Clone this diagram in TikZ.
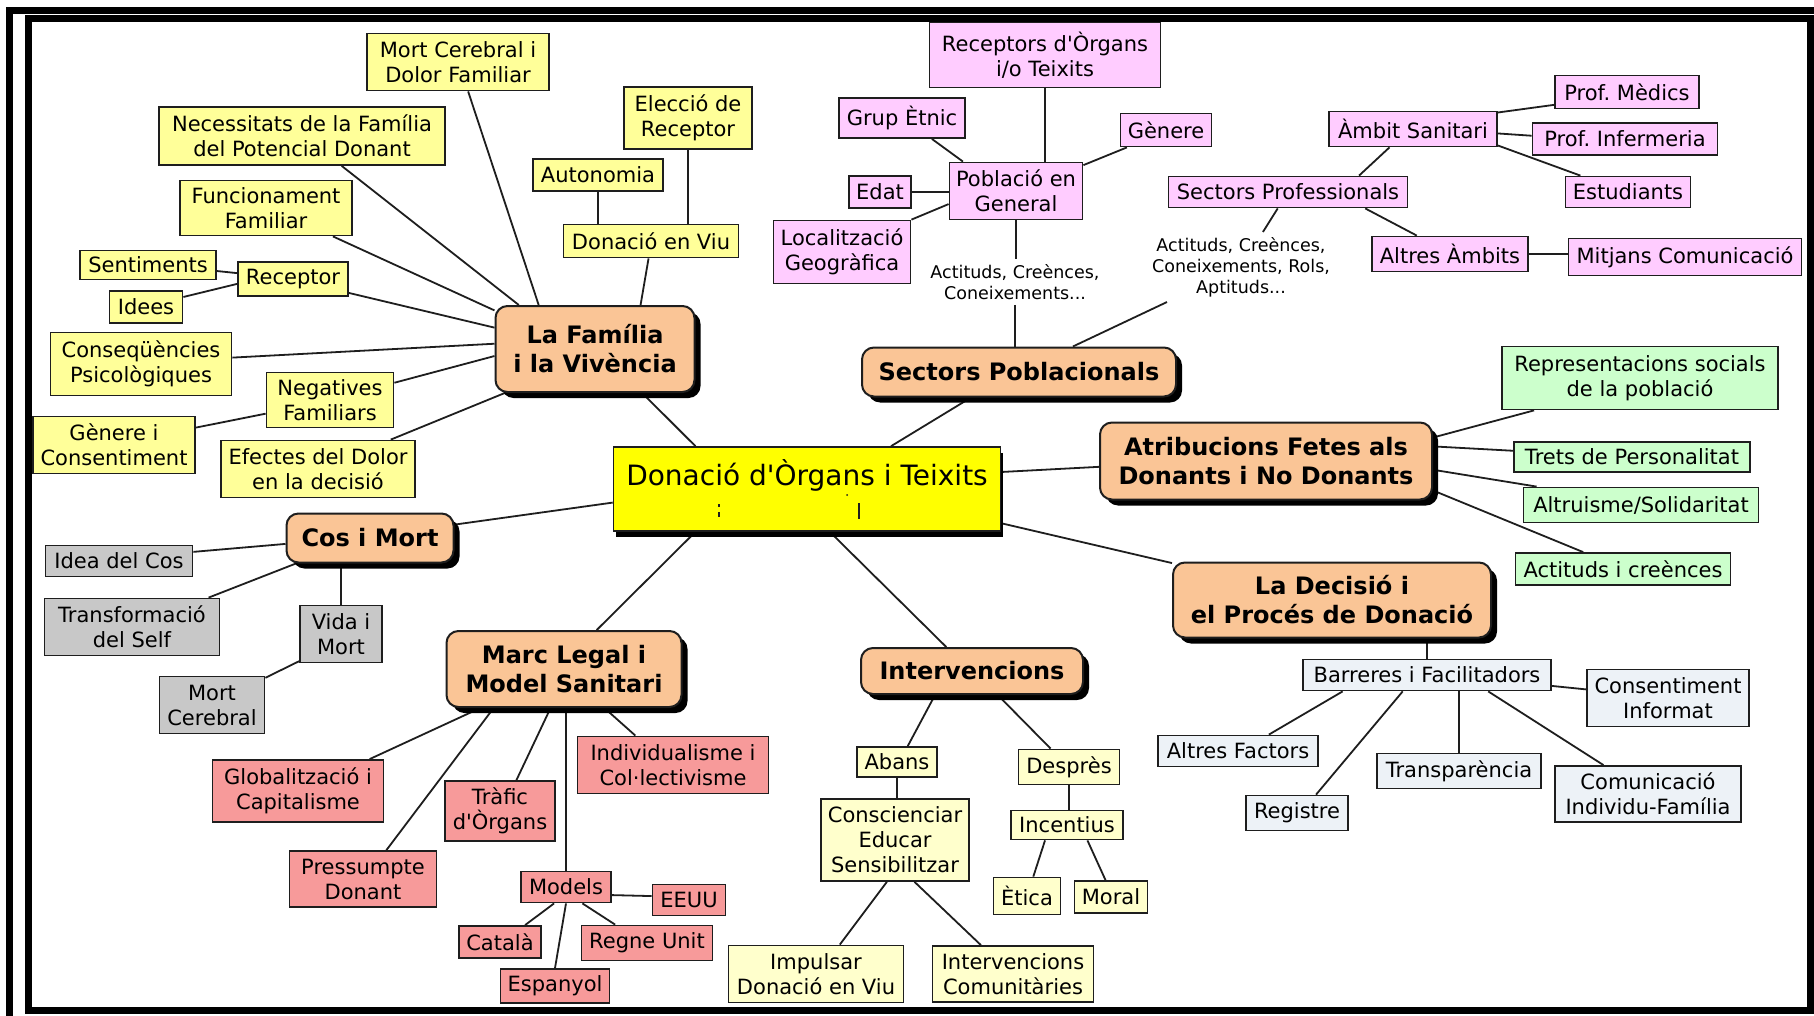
\documentclass[tikz,border=0pt]{standalone}
\usepackage{fontspec}
\setmainfont{DejaVu Sans}[Ligatures=TeXOff]
\usetikzlibrary{shadows}
\pgfdeclarelayer{background}
\pgfsetlayers{background,main}

\definecolor{famfill}{HTML}{FFFF99}
\definecolor{intfill}{HTML}{FFFFCC}
\definecolor{pobfill}{HTML}{FFCCFF}
\definecolor{atrfill}{HTML}{CCFFCC}
\definecolor{cosfill}{HTML}{C8C8C8}
\definecolor{marfill}{HTML}{F79A9A}
\definecolor{decfill}{HTML}{EDF2F7}
\definecolor{topicfill}{HTML}{FAC596}
\definecolor{rootfill}{HTML}{FFFF00}
\definecolor{ink}{HTML}{1E1E1E}

\begin{document}
\frenchspacing
\begin{tikzpicture}[x=1pt,y=-1pt,
  box/.style={draw=ink, line width=1.8pt, rectangle, align=center,
    inner xsep=2pt, inner ysep=1pt, text=black,
    font=\fontsize{21}{25}\selectfont},
  sz/.style 2 args={minimum width=#1pt, minimum height=#2pt},
  fambox/.style={box, fill=famfill},
  intbox/.style={box, fill=intfill},
  pobbox/.style={box, fill=pobfill},
  atrbox/.style={box, fill=atrfill},
  cosbox/.style={box, fill=cosfill},
  marbox/.style={box, fill=marfill},
  decbox/.style={box, fill=decfill},
  topic/.style={draw=ink, line width=2pt, rounded corners=12pt,
    fill=topicfill, align=center, inner sep=2pt, text=black,
    font=\fontsize{24}{29}\selectfont\bfseries,
    drop shadow={shadow xshift=6pt, shadow yshift=-6pt, fill=black, opacity=1}},
  root/.style={draw=ink, line width=1.6pt, fill=rootfill, align=center,
    inner sep=0pt, text=black, font=\fontsize{28}{32}\selectfont,
    drop shadow={shadow xshift=2pt, shadow yshift=-6pt, fill=black, opacity=1}},
  phrase/.style={align=center, inner sep=5pt, text=black,
    font=\fontsize{17.5}{21}\selectfont},
  conn/.style={draw=ink, line width=1.8pt}
]
\useasboundingbox (0,0) rectangle (1814,1016);

% ---------- central concept ----------
\node[root, sz={387}{84}] (cen) at (807,489) {Donació d'Òrgans i Teixits\\\mbox{}};
\draw[ink, line width=1.6pt] (719,504) -- (719,507) (719,512) -- (719,517);
\draw[ink, line width=2pt] (859,503) -- (859,519);
\fill[ink] (847,495) circle (1pt);

% ---------- La Família i la Vivència ----------
\node[topic, sz={199}{86}] (fam) at (595,349) {La Família\\i la Vivència};
\node[fambox, sz={182}{57}] (mcd) at (458,62) {Mort Cerebral i\\Dolor Familiar};
\node[fambox, sz={286}{58}] (nec) at (302,136) {Necessitats de la Família\\del Potencial Donant};
\node[fambox, sz={172}{55}] (fun) at (266,208) {Funcionament\\Familiar};
\node[fambox, sz={136}{29}] (sen) at (148,265) {Sentiments};
\node[fambox, sz={110}{34}] (rec) at (293,279) {Receptor};
\node[fambox, sz={73}{32}] (ide) at (146,307) {Idees};
\node[fambox, sz={181}{63}] (con) at (141,364) {Conseqüències\\Psicològiques};
\node[fambox, sz={127}{55}] (neg) at (330,400) {Negatives\\Familiars};
\node[fambox, sz={162}{57}] (gen) at (114,445) {Gènere i\\Consentiment};
\node[fambox, sz={194}{57}] (efe) at (318,469) {Efectes del Dolor\\en la decisió};
\node[fambox, sz={130}{32}] (aut) at (598,175) {Autonomia};
\node[fambox, sz={128}{62}] (ele) at (688,118) {Elecció de\\Receptor};
\node[fambox, sz={175}{33}] (dvi) at (651,241) {Donació en Viu};

% ---------- Sectors Poblacionals ----------
\node[topic, sz={314}{49}] (spo) at (1019,372) {Sectors Poblacionals};
\node[pobbox, sz={231}{65}] (rot) at (1045,55) {Receptors d'Òrgans\\i/o Teixits};
\node[pobbox, sz={126}{40}] (get) at (902,118) {Grup Ètnic};
\node[pobbox, sz={91}{33}] (gne) at (1166,130) {Gènere};
\node[pobbox, sz={133}{57}] (pob) at (1016,191) {Població en\\General};
\node[pobbox, sz={62}{32}] (eda) at (880,192) {Edat};
\node[pobbox, sz={137}{63}] (loc) at (842,252) {Localització\\Geogràfica};
\node[pobbox, sz={168}{35}] (amb) at (1413,129) {Àmbit Sanitari};
\node[pobbox, sz={144}{33}] (pme) at (1627,92) {Prof. Mèdics};
\node[pobbox, sz={185}{32}] (pin) at (1625,139) {Prof. Infermeria};
\node[pobbox, sz={125}{31}] (est) at (1628,192) {Estudiants};
\node[pobbox, sz={239}{31}] (spr) at (1288,192) {Sectors Professionals};
\node[pobbox, sz={156}{35}] (alt) at (1450,254) {Altres Àmbits};
\node[pobbox, sz={233}{37}] (mit) at (1685,257) {Mitjans Comunicació};
\node[phrase] (lp1) at (1015,282) {Actituds, Creènces,\\Coneixements...};
\node[phrase] (lp2) at (1241,267) {Actituds, Creènces,\\Coneixements, Rols,\\Aptituds...};

% ---------- Atribucions ----------
\node[topic, sz={332}{77}] (atr) at (1266,461) {Atribucions Fetes als\\Donants i No Donants};
\node[atrbox, sz={276}{63}] (rep) at (1640,378) {Representacions socials\\de la població};
\node[atrbox, sz={236}{30}] (tre) at (1632,457) {Trets de Personalitat};
\node[atrbox, sz={235}{35}] (alr) at (1641,505) {Altruisme/Solidaritat};
\node[atrbox, sz={215}{32}] (act) at (1623,569) {Actituds i creènces};

% ---------- La Decisió ----------
\node[topic, sz={318}{75}] (dec) at (1332,600) {La Decisió i\\el Procés de Donació};
\node[decbox, sz={248}{31}] (bar) at (1427,675) {Barreres i Facilitadors};
\node[decbox, sz={162}{57}] (cin) at (1668,698) {Consentiment\\Informat};
\node[decbox, sz={160}{31}] (afa) at (1238,751) {Altres Factors};
\node[decbox, sz={164}{35}] (tra) at (1459,771) {Transparència};
\node[decbox, sz={186}{56}] (com) at (1648,794) {Comunicació\\Individu-Família};
\node[decbox, sz={102}{35}] (reg) at (1297,813) {Registre};

% ---------- Cos i Mort ----------
\node[topic, sz={167}{49}] (cos) at (370,538) {Cos i Mort};
\node[cosbox, sz={147}{31}] (idc) at (119,561) {Idea del Cos};
\node[cosbox, sz={175}{57}] (tsf) at (132,627) {Transformació\\del Self};
\node[cosbox, sz={82}{57}] (vim) at (341,634) {Vida i\\Mort};
\node[cosbox, sz={105}{57}] (mce) at (212,705) {Mort\\Cerebral};

% ---------- Marc Legal ----------
\node[topic, sz={235}{76}] (mar) at (564,669) {Marc Legal i\\Model Sanitari};
\node[marbox, sz={171}{62}] (glo) at (298,791) {Globalització i\\Capitalisme};
\node[marbox, sz={110}{60}] (trf) at (500,811) {Tràfic\\d'Òrgans};
\node[marbox, sz={191}{57}] (ind) at (673,765) {Individualisme i\\Col·lectivisme};
\node[marbox, sz={147}{56}] (pre) at (363,879) {Pressumpte\\Donant};
\node[marbox, sz={90}{31}] (mod) at (566,887) {Models};
\node[marbox, sz={73}{31}] (eeu) at (689,900) {EEUU};
\node[marbox, sz={82}{32}] (cat) at (500,942) {Català};
\node[marbox, sz={131}{35}] (reu) at (647,943) {Regne Unit};
\node[marbox, sz={109}{34}] (esp) at (555,986) {Espanyol};

% ---------- Intervencions ----------
\node[topic, sz={222}{46}] (int) at (972,671) {Intervencions};
\node[intbox, sz={80}{30}] (aba) at (897,762) {Abans};
\node[intbox, sz={101}{35}] (des) at (1069,767) {Desprès};
\node[intbox, sz={148}{82}] (csc) at (895,840) {Conscienciar\\Educar\\Sensibilitzar};
\node[intbox, sz={112}{29}] (inc) at (1067,825) {Incentius};
\node[intbox, sz={67}{37}] (eti) at (1027,896) {Ètica};
\node[intbox, sz={73}{32}] (mor) at (1111,897) {Moral};
\node[intbox, sz={175}{57}] (imp) at (816,974) {Impulsar\\Donació en Viu};
\node[intbox, sz={161}{56}] (ico) at (1013,974) {Intervencions\\Comunitàries};

% ---------- page and connectors, behind the boxes ----------
\begin{pgfonlayer}{background}
\fill[white] (0,0) rectangle (1814,1016);

\draw[conn] (mcd.-71) -- (fam.142);
\draw[conn] (nec.-37) -- (fam.150);
\draw[conn] (fun.-23) -- (fam.159);
\draw[conn] (rec.-14) -- (fam.168);
\draw[conn] (sen.-5) -- (rec.174);
\draw[conn] (ide.15) -- (rec.185);
\draw[conn] (con.4) -- (fam.177);
\draw[conn] (neg.15) -- (fam.184);
\draw[conn] (gen.12) -- (neg.192);
\draw[conn] (efe.22) -- (fam.206);
\draw[conn] (aut.south) -- (aut.south |- dvi.north);
\draw[conn] (ele.south) -- (ele.south |- dvi.north);
\draw[conn] (dvi.-98) -- (fam.44);
\draw[conn] (fam.-43) -- (cen.159);

\draw[conn] (get.-35) -- (pob.151);
\draw[conn] (gne.204) -- (pob.21);
\draw[conn] (rot.south) -- (rot.south |- pob.north);
\draw[conn] (eda.east) -- (eda.east -| pob.west);
\draw[conn] (loc.25) -- (pob.191);
\draw[conn] (pob.south) -- (pob.south |- lp1.north);
\draw[conn] (lp1.south) -- (lp1.south |- spo.north);
\draw[conn] (spr) -- (lp2);
\draw[conn] (lp2) -- (spo);
\draw[conn] (amb.218) -- (spr.13);
\draw[conn] (amb.11) -- (pme.190);
\draw[conn] (amb.-3) -- (pin.178);
\draw[conn] (amb.-11) -- (est.161);
\draw[conn] (spr.-12) -- (alt.151);
\draw[conn] (alt.east) -- (alt.east -| mit.west);
\draw[conn] (spo.208) -- (cen.27);

\draw[conn] (cen.5) -- (atr.182);
\draw[conn] (atr.8) -- (rep.197);
\draw[conn] (atr.5) -- (tre.177);
\draw[conn] (atr.-3) -- (alr.170);
\draw[conn] (atr.-10) -- (act.157);

\draw[conn] (cen.-10) -- (dec.167);
\draw[conn] (bar.north) -- (bar.north |- dec.south);
\draw[conn] (bar.-5) -- (cin.174);
\draw[conn] (bar.191) -- (afa.28);
\draw[conn] (bar.214) -- (reg.44);
\draw[conn] (tra.north) -- (tra.north |- bar.south);
\draw[conn] (bar.-15) -- (com.147);

\draw[conn] (cos.9) -- (cen.184);
\draw[conn] (cos.184) -- (idc.7);
\draw[conn] (cos.199) -- (tsf.21);
\draw[conn] (vim.north) -- (vim.north |- cos.south);
\draw[conn] (vim.213) -- (mce.27);

\draw[conn] (mar.50) -- (cen.201);
\draw[conn] (mar.205) -- (glo.24);
\draw[conn] (mar.209) -- (pre.51);
\draw[conn] (mar.251) -- (trf.62);
\draw[conn] (mod.north) -- (mod.north |- mar.south);
\draw[conn] (mar.-44) -- (ind.142);
\draw[conn] (mod.-10) -- (eeu.174);
\draw[conn] (mod.234) -- (cat.34);
\draw[conn] (mod.-45) -- (reu.150);
\draw[conn] (mod.south) -- (esp.north);

\draw[conn] (cen.-62) -- (int.137);
\draw[conn] (int.213) -- (aba.56);
\draw[conn] (int.-43) -- (des.135);
\draw[conn] (aba.south) -- (aba.south |- csc.north);
\draw[conn] (des.south) -- (des.south |- inc.north);
\draw[conn] (inc.215) -- (eti.72);
\draw[conn] (inc.-37) -- (mor.108);
\draw[conn] (csc.259) -- (imp.51);
\draw[conn] (csc.-65) -- (ico.138);
\end{pgfonlayer}

% ---------- double frame ----------
\draw[black, line width=7pt, line join=miter] (9.5,1016) -- (9.5,10.5) -- (1814,10.5);
\draw[black, line width=7pt, line join=miter] (28.5,18.5) rectangle (1810.5,1010.5);
\end{tikzpicture}
\end{document}
